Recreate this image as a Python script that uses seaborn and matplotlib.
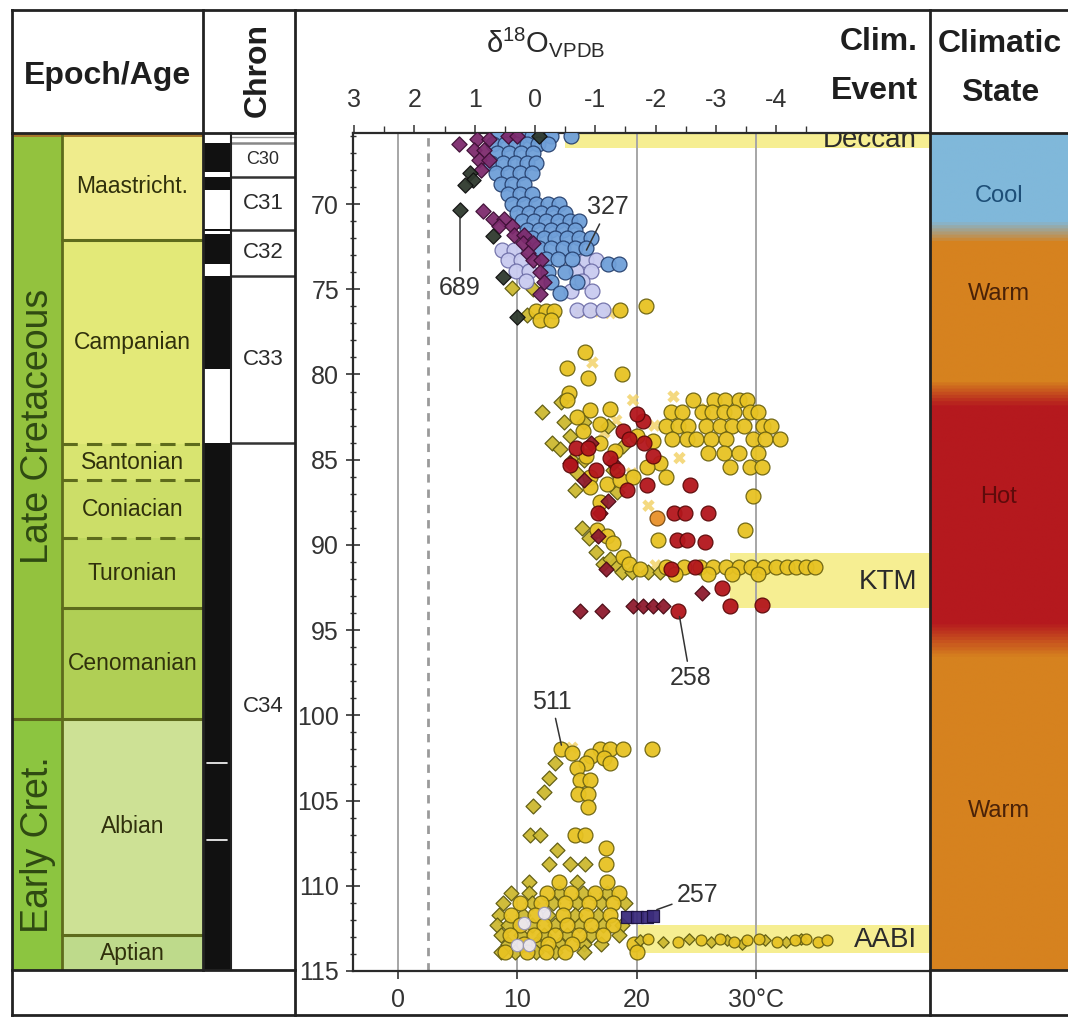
import numpy as np
import matplotlib
matplotlib.use("Agg")
import matplotlib.pyplot as plt
import seaborn as sns
from matplotlib.colors import LinearSegmentedColormap

# ---------------------------------------------------------------- data
epoch_names = ["Late Cretaceous", "Early Cret."]
epoch_top = [65.83, 100.2]
epoch_base = [100.2, 115.0]

stage_names = ["Maastricht.", "Campanian", "Santonian", "Coniacian",
               "Turonian", "Cenomanian", "Albian", "Aptian"]
stage_top = [65.83, 72.1, 84.1, 86.2, 89.6, 93.7, 100.2, 112.9]
stage_base = [72.1, 84.1, 86.2, 89.6, 93.7, 100.2, 112.9, 115.0]

chron_names = ["C30", "C31", "C32", "C33", "C34"]
chron_top = [66.4, 68.4, 71.5, 74.2, 84.0]
chron_base = [68.4, 71.5, 74.2, 84.0, 115.0]
normal_top = [66.4, 68.4, 71.45, 71.75, 74.2, 84.0]
normal_base = [68.1, 69.2, 71.6, 73.5, 79.7, 115.0]
c34_white_ticks = [102.8, 107.3]

clim_state_names = ["Cool", "Warm", "Hot", "Warm"]
clim_state_age = [69.5, 75.3, 87.2, 105.6]
clim_grad_age = [65.83, 70.9, 72.2, 80.3, 81.8, 94.6, 96.6, 115.0]
clim_grad_col = ["#80B8DA", "#80B8DA", "#D6821F", "#D6821F",
                 "#B5191E", "#B5191E", "#D6821F", "#D6821F"]

event_names = ["Deccan", "KTM", "AABI"]
event_top = [65.83, 90.5, 112.3]
event_base = [66.7, 93.7, 113.95]
event_tstart = [14.0, 27.8, 20.0]
event_label_age = [66.25, 92.2, 113.2]

temp_ticks = [0, 10, 20, 30]
temp_labels = ["0", "10", "20", "30°C"]
d18o_ticks = [3, 2, 1, 0, -1, -2, -3, -4]
d18o_labels = ["3", "2", "1", "0", "-1", "-2", "-3", "-4"]
age_ticks = [70, 75, 80, 85, 90, 95, 100, 105, 110, 115]

# sample series: age (Ma) and temperature (deg C)
blue_age = [66.0, 66.0, 66.0, 66.0, 66.0, 66.0, 66.0,
            66.5, 66.5, 66.5, 66.5, 66.5, 66.5,
            67.0, 67.0, 67.0, 67.0,
            67.6, 67.6, 67.6, 67.6, 67.6,
            68.2, 68.2, 68.2, 68.2,
            68.8, 68.8, 68.8,
            69.4, 69.4, 69.4,
            70.0, 70.0, 70.0, 70.0, 70.0,
            70.5, 70.5, 70.5, 70.5, 70.5,
            71.0, 71.0, 71.0, 71.0, 71.0, 71.0,
            71.5, 71.5, 71.5, 71.5, 71.5,
            72.0, 72.0, 72.0, 72.0, 72.0, 72.0,
            72.6, 72.6, 72.6, 72.6, 72.6,
            73.2, 73.2, 73.2,
            73.5, 73.5,
            74.0, 74.0, 74.6, 74.6, 75.2]
blue_temp = [8.4, 9.4, 10.3, 11.2, 12.0, 12.8, 14.5,
             8.0, 9.0, 9.9, 10.8, 11.7, 12.6,
             8.3, 9.3, 10.3, 11.3,
             7.8, 8.8, 9.8, 10.8, 11.6,
             8.2, 9.2, 10.2, 11.2,
             8.6, 9.6, 10.6,
             9.2, 10.2, 11.2,
             9.6, 10.6, 11.6, 12.6, 13.5,
             10.0, 11.0, 12.0, 13.0, 14.0,
             10.4, 11.4, 12.4, 13.4, 14.4, 15.2,
             10.8, 11.8, 12.8, 13.8, 14.8,
             11.2, 12.2, 13.2, 14.2, 15.2, 16.2,
             11.8, 12.8, 13.8, 14.8, 15.8,
             12.4, 13.4, 14.6,
             17.6, 18.5,
             12.6, 14.0, 12.8, 15.0, 13.6]

lav_age = [72.7, 72.7, 73.3, 73.3, 73.3, 73.3, 73.9, 73.9, 73.9, 73.9,
           74.5, 74.5, 75.1, 75.1, 76.2, 76.2, 76.2]
lav_temp = [8.7, 9.7, 9.2, 10.3, 15.8, 16.6, 9.9, 11.0, 14.9, 16.2,
            10.7, 15.4, 14.5, 16.3, 15.0, 16.1, 17.2]

purple_age = [66.5, 66.0, 66.0, 66.2, 66.2, 66.8, 66.8, 67.4, 67.4, 68.0,
              70.4, 70.9, 70.9, 71.3, 71.3, 71.8, 71.8, 72.3, 72.3, 72.9,
              73.3, 73.3, 74.0, 74.6, 75.3]
purple_temp = [5.1, 9.2, 10.0, 6.6, 7.6, 6.4, 7.2, 6.8, 7.6, 7.0,
               7.1, 8.0, 8.9, 8.5, 9.6, 9.7, 10.6, 10.5, 11.3, 10.9,
               11.3, 12.0, 11.9, 12.2, 11.9]

dark_age = [66.0, 68.2, 68.6, 68.9, 70.35, 71.9, 74.3, 76.6]
dark_temp = [11.8, 6.0, 6.3, 5.6, 5.2, 8.0, 8.8, 10.0]

goldc_age = [76.3, 76.3, 76.3, 76.8, 76.8, 76.2, 76.0,
             78.7, 79.6, 80.2, 80.0, 81.1,
             81.5, 82.1, 82.5, 82.9, 82.0, 83.3, 84.0, 84.8, 86.0, 86.4,
             86.2, 86.0, 83.9, 85.2, 86.0, 83.6, 85.4, 84.5,
             81.5, 81.5, 81.5, 81.5, 81.5,
             82.2, 82.2, 82.2, 82.2, 82.2, 82.2, 82.2, 82.2,
             83.0, 83.0, 83.0, 83.0, 83.0, 83.0, 83.0, 83.0, 83.0,
             83.8, 83.8, 83.8, 83.8, 83.8, 83.8, 83.8, 83.8,
             84.6, 84.6, 84.6, 84.6,
             85.4, 85.4, 85.4,
             86.6, 87.5, 89.1, 89.5, 89.9, 90.7, 91.1, 91.4,
             87.1, 89.1, 89.7,
             91.3, 91.3, 91.3, 91.3, 91.3, 91.3, 91.3, 91.3, 91.3, 91.3,
             91.3, 91.3, 91.3,
             91.7, 91.7, 91.7, 91.7,
             102.0, 102.2, 102.0, 102.0, 102.0, 102.0, 102.4, 102.5, 102.8,
             102.8, 103.1, 103.8, 103.8, 104.6, 104.6, 105.4, 107.0, 107.0,
             107.8, 108.7,
             109.8, 109.8,
             110.4, 110.4, 110.4, 110.4,
             111.0, 111.0, 111.0, 111.0, 111.0,
             111.7, 111.7, 111.7, 111.7, 111.7,
             112.3, 112.3, 112.3, 112.3, 112.3,
             112.9, 112.9, 112.9, 112.9, 112.9,
             113.4, 113.4, 113.4, 113.4,
             113.9, 113.9, 113.9, 113.9, 113.9]
goldc_temp = [11.6, 12.4, 13.1, 11.9, 12.8, 18.6, 20.8,
              15.7, 14.2, 15.9, 18.8, 14.3,
              14.2, 16.1, 15.0, 16.9, 17.8, 15.5, 16.9, 15.8, 16.1, 17.5,
              18.6, 19.7, 21.4, 22.0, 22.5, 20.0, 20.9, 18.2,
              24.7, 26.5, 27.4, 28.6, 29.3,
              22.9, 23.8, 25.5, 26.3, 27.3, 28.2, 29.5, 30.2,
              22.5, 23.5, 24.3, 25.8, 27.0, 28.0, 29.0, 30.6, 31.3,
              23.0, 24.2, 25.0, 26.2, 27.5, 29.8, 30.8, 32.0,
              26.0, 27.3, 28.6, 30.2,
              27.8, 29.5, 30.5,
              16.1, 16.9, 16.7, 17.5, 18.0, 18.9, 19.4, 20.3,
              29.8, 29.1, 21.8,
              22.5, 24.0, 25.3, 26.4, 27.5, 28.6, 29.6, 30.7, 31.7, 32.6,
              33.4, 34.2, 35.0,
              23.2, 26.0, 28.0, 30.2,
              13.7, 14.6, 16.9, 17.8, 18.9, 21.3, 16.2, 17.3, 17.8,
              15.8, 15.0, 15.3, 16.1, 15.1, 15.9, 15.9, 14.8, 15.7,
              17.4, 17.4,
              13.5, 17.5,
              12.5, 14.5, 16.5, 18.5,
              10.2, 12.0, 14.0, 16.0, 18.0,
              9.5, 11.5, 13.8, 15.8, 17.8,
              10.2, 12.2, 14.2, 16.2, 18.0,
              9.4, 11.4, 13.2, 15.2, 17.2,
              10.6, 12.6, 14.6, 19.8,
              9.0, 10.8, 12.4, 14.0, 20.0]

goldd_age = [74.9, 75.0, 76.5,
             82.2, 84.0, 81.6, 82.8, 82.8, 83.6, 84.4, 85.0, 85.0, 85.8,
             86.8, 89.0, 89.6, 90.4, 91.1, 91.1, 91.6, 91.6, 91.6, 91.6,
             90.8, 83.0, 84.2, 85.6, 86.9,
             102.8, 103.7, 104.5, 105.3, 107.0, 107.0, 107.9, 108.7, 108.7,
             108.7,
             109.8, 109.8,
             110.4, 110.4, 110.4, 110.4, 110.4,
             111.0, 111.0, 111.0, 111.0, 111.0, 111.0,
             111.7, 111.7, 111.7, 111.7, 111.7,
             112.3, 112.3, 112.3, 112.3, 112.3, 112.3, 112.3,
             112.9, 112.9, 112.9, 112.9, 112.9, 112.9,
             113.4, 113.4, 113.4, 113.4, 113.4,
             113.9, 113.9, 113.9, 113.9, 113.9]
goldd_temp = [9.6, 11.3, 10.8,
              12.1, 12.9, 13.7, 13.9, 15.6, 14.4, 13.6, 14.6, 15.6, 15.0,
              14.8, 15.4, 16.0, 16.6, 17.2, 18.2, 18.8, 19.6, 21.0, 22.0,
              17.8, 17.6, 18.9, 18.0, 18.4,
              13.2, 12.7, 12.2, 11.3, 11.1, 11.9, 13.3, 15.7, 14.4,
              12.7,
              11.0, 15.0,
              9.5, 11.0, 13.5, 15.5, 17.5,
              8.8, 11.2, 13.0, 15.0, 17.0, 19.0,
              8.5, 10.5, 12.6, 14.8, 16.8,
              8.3, 9.2, 11.2, 13.2, 15.2, 17.2, 18.8,
              8.6, 10.3, 12.2, 14.2, 16.2, 18.5,
              9.2, 11.6, 13.6, 15.6, 17.0,
              8.6, 9.8, 11.6, 13.2, 15.6]

aabi_c_age = [113.1, 113.3, 113.2, 113.1, 113.3, 113.2, 113.1, 113.3, 113.2,
              113.1, 113.3, 113.2]
aabi_c_temp = [21.0, 23.5, 25.4, 27.0, 28.2, 29.3, 30.3, 31.8, 33.3, 34.2,
               35.2, 36.0]
aabi_d_age = [113.2, 113.3, 113.1, 113.3, 113.2, 113.4, 113.2, 113.3, 113.1]
aabi_d_temp = [20.3, 22.2, 24.4, 26.2, 27.6, 28.8, 30.8, 32.5, 33.8]

redc_age = [82.7, 82.3, 83.3, 85.3, 84.9, 84.8, 86.5, 86.5, 88.1, 88.1,
            88.1, 88.1, 89.7, 89.7, 89.8, 91.4, 91.3, 92.5, 93.6, 93.5,
            93.9, 84.3, 84.3, 85.6, 85.6, 83.8, 86.8, 84.0]
redc_temp = [20.5, 20.0, 18.9, 14.4, 17.8, 21.4, 24.5, 20.9, 23.1, 24.1,
             26.0, 16.8, 23.4, 24.2, 25.7, 22.9, 24.9, 27.2, 27.8, 30.5,
             23.5, 14.9, 15.9, 16.6, 18.4, 19.4, 19.2, 20.6]

redd_age = [93.9, 93.9, 93.6, 93.6, 93.6, 93.6, 92.8, 91.4, 85.2, 85.2,
            88.1, 89.5, 84.0, 86.2, 87.4]
redd_temp = [15.3, 17.1, 19.7, 20.5, 21.4, 22.2, 25.5, 17.4, 14.4, 18.0,
             16.9, 16.8, 16.2, 15.6, 17.6]

orange_age = [88.4]
orange_temp = [21.7]

yx_age = [79.3, 81.5, 81.3, 84.9, 82.7, 83.4, 87.7, 91.2, 90.9, 76.3, 76.3,
          76.4, 85.8, 82.0, 83.0, 101.9, 102.3, 112.6]
yx_temp = [16.3, 19.7, 23.1, 23.6, 18.3, 17.3, 21.0, 21.6, 19.0, 15.2, 16.4,
           17.8, 19.6, 25.8, 21.5, 14.6, 17.5, 11.0]

navy_age = [111.85, 111.85, 111.85, 111.8]
navy_temp = [19.2, 20.0, 20.9, 21.4]

pale_age = [112.2, 113.5, 113.5, 111.6]
pale_temp = [10.6, 10.0, 11.0, 12.2]

site_labels = ["327", "689", "258", "511", "257"]
site_point_temp = [15.8, 5.2, 23.6, 13.7, 21.7]
site_point_age = [72.7, 70.8, 94.2, 101.75, 111.4]
site_text_temp = [17.6, 5.2, 24.5, 12.9, 25.1]
site_text_age = [70.2, 74.9, 97.8, 99.2, 110.55]

# ---------------------------------------------------------------- style
sns.set_theme(style="white")
plt.rcParams["font.family"] = ["Liberation Sans", "DejaVu Sans"]
plt.rcParams["axes.unicode_minus"] = False
plt.rcParams["mathtext.fontset"] = "custom"
plt.rcParams["mathtext.rm"] = "Liberation Sans"
plt.rcParams["mathtext.it"] = "Liberation Sans:italic"

W, H = 1068, 1019
AGE_TOP, AGE_BOT = 65.83, 115.0
TXT = "#2B2B2B"

fig = plt.figure(figsize=(W / 100, H / 100), dpi=100)
fig.patch.set_facecolor("white")


def box(x0, x1, y0=133, y1=971):
    return [x0 / W, 1 - y1 / H, (x1 - x0) / W, (y1 - y0) / H]


# ---------------------------------------------------------------- stratigraphy
ax_s = fig.add_axes(box(12, 203))
ax_s.set_xlim(12, 203)
ax_s.set_ylim(AGE_BOT, AGE_TOP)
ax_s.axis("off")
epoch_colors = ["#93C23E", "#8CC540"]
stage_colors = ["#EFEC8C", "#E3E978", "#D8E470", "#CCDE68", "#BED75E",
                "#B0CF55", "#CDE195", "#BEDA8B"]
stage_dashed = [False, False, True, True, True, False, False, False]
for nm, t, b, c in zip(epoch_names, epoch_top, epoch_base, epoch_colors):
    ax_s.fill_betweenx([t, b], 12, 62, color=c, lw=0)
    ax_s.text(38, (t + b) / 2, nm, rotation=90, ha="center", va="center",
              fontsize=27, color="#2F4A12")
for nm, t, b, c, dsh in zip(stage_names, stage_top, stage_base, stage_colors,
                            stage_dashed):
    ax_s.fill_betweenx([t, b], 62, 203, color=c, lw=0)
    ax_s.text(132.5, (t + b) / 2, nm, ha="center", va="center",
              fontsize=16.5, color="#30300C")
    if t > AGE_TOP:
        ax_s.plot([62, 203], [t, t], color="#5E6B1C", lw=2.2,
                  ls=(0, (5, 3)) if dsh else "-")
ax_s.plot([12, 62], [epoch_top[1]] * 2, color="#5E6B1C", lw=2.2)
ax_s.plot([62, 62], [AGE_TOP, AGE_BOT], color="#5E6B1C", lw=2)
ax_s.fill_betweenx([AGE_TOP, 66.05], 12, 203, color="#A8782C", lw=0)

# ---------------------------------------------------------------- polarity
ax_p = fig.add_axes(box(203, 231))
ax_p.set_xlim(0, 1)
ax_p.set_ylim(AGE_BOT, AGE_TOP)
ax_p.axis("off")
for t, b in zip(normal_top, normal_base):
    ax_p.fill_betweenx([t, b], 0, 1, color="#111111", lw=0)
for a in c34_white_ticks:
    ax_p.plot([0.15, 0.85], [a, a], color="white", lw=1.2)

ax_c = fig.add_axes(box(231, 295))
ax_c.set_xlim(0, 1)
ax_c.set_ylim(AGE_BOT, AGE_TOP)
ax_c.axis("off")
for i, (nm, t, b) in enumerate(zip(chron_names, chron_top, chron_base)):
    ax_c.plot([0, 1], [t, t], color="#333333" if i else "#888888",
              lw=1.8)
    ax_c.text(0.5, (t + b) / 2, nm, ha="center", va="center",
              fontsize=13 if i == 0 else 16, color=TXT)
ax_c.plot([0, 1], [66.05, 66.05], color="#999999", lw=1)

# ---------------------------------------------------------------- main panel
ax = fig.add_axes(box(353, 930))
ax.set_facecolor("white")
XL = (-3.77, 44.6)

for t, b, ts in zip(event_top, event_base, event_tstart):
    ax.fill_betweenx([t, b], ts, XL[1], color="#F6EE92", lw=0, zorder=0)
for tt in temp_ticks:
    ax.axvline(tt, color="#A6A6A6", lw=1.4, zorder=1)
ax.axvline(2.5, color="#9A9A9A", lw=2, ls=(0, (3, 2.5)), zorder=1)


def scat(ages, temps, marker, fc, ec, s, z, lw=0.9, alpha=0.95):
    sns.scatterplot(x=temps, y=ages, marker=marker, color=fc, edgecolor=ec,
                    s=s, linewidth=lw, alpha=alpha, ax=ax, zorder=z,
                    legend=False)


scat(yx_age, yx_temp, "X", "#F3D36A", "none", 80, 2, lw=0, alpha=0.85)
scat(goldd_age, goldd_temp, "D", "#CDB930", "#5E5A10", 58, 3)
scat(goldc_age, goldc_temp, "o", "#E7C222", "#6B6210", 115, 4)
scat(aabi_d_age, aabi_d_temp, "D", "#CDB930", "#5E5A10", 34, 4)
scat(aabi_c_age, aabi_c_temp, "o", "#E7C222", "#6B6210", 62, 4)
scat(pale_age, pale_temp, "o", "#ECE8F4", "#9A96B0", 80, 5)
scat(redd_age, redd_temp, "D", "#8E1B2E", "#4A0A14", 58, 5)
scat(redc_age, redc_temp, "o", "#B3161C", "#5C0A0A", 115, 6)
scat(orange_age, orange_temp, "o", "#E8902A", "#7A4A10", 115, 6)
scat(lav_age, lav_temp, "o", "#C9CBF0", "#6F6FA8", 115, 5)
scat(blue_age, blue_temp, "o", "#6F9FD8", "#26406E", 115, 6)
scat(purple_age, purple_temp, "D", "#7D2B6E", "#3E1036", 60, 7)
scat(dark_age, dark_temp, "D", "#2F3A2E", "#111111", 60, 7)
scat(navy_age, navy_temp, "s", "#3B2C7C", "#1C1240", 80, 7)

for lab, pt, pa, tt, ta in zip(site_labels, site_point_temp, site_point_age,
                               site_text_temp, site_text_age):
    ax.annotate(lab, xy=(pt, pa), xytext=(tt, ta), ha="center", va="center",
                fontsize=18, color="#333333", zorder=9,
                arrowprops=dict(arrowstyle="-", color="#333333", lw=1.1,
                                shrinkA=1, shrinkB=0))

for nm, a in zip(event_names, event_label_age):
    ax.text(43.5, a, nm, ha="right", va="center", fontsize=20, color=TXT,
            zorder=9, clip_on=True)

ax.set_xlim(*XL)
ax.set_ylim(AGE_BOT, AGE_TOP)
ax.set_xlabel("")
ax.set_ylabel("")
ax.set_xticks(temp_ticks, labels=temp_labels)
ax.set_yticks(age_ticks, labels=[str(a) for a in age_ticks])
ax.set_yticks(np.arange(66, 116), minor=True)
ax.tick_params(axis="y", which="major", direction="inout", length=10,
               width=1.2, labelsize=18, pad=5, left=True, colors="#333333")
ax.tick_params(axis="y", which="minor", direction="inout", length=5,
               width=1, left=True, color="#333333")
ax.tick_params(axis="x", which="major", direction="out", length=6, width=1.2,
               labelsize=18, pad=6, bottom=True, colors="#333333")
for sp in ["left", "top", "bottom"]:
    ax.spines[sp].set_color("#2A2A2A")
    ax.spines[sp].set_linewidth(1.6)
ax.spines["right"].set_visible(False)
ax.grid(False)


def t2d(t):
    return 2.272 - 0.1978 * np.asarray(t, dtype=float)


def d2t(d):
    return (2.272 - np.asarray(d, dtype=float)) / 0.1978


ax_top = ax.secondary_xaxis("top", functions=(t2d, d2t))
ax_top.set_xticks(d18o_ticks, labels=d18o_labels)
ax_top.set_xticks(np.arange(2.5, -5.0, -1.0), minor=True)
ax_top.tick_params(which="major", direction="out", length=6, width=1.1,
                   labelsize=18, pad=9, colors="#333333")
ax_top.tick_params(which="minor", direction="out", length=5, width=1.0,
                   color="#333333")
ax_top.spines["top"].set_visible(False)

# ---------------------------------------------------------------- climate state
ax_k = fig.add_axes(box(930, 1068))
ax_k.set_xlim(0, 1)
ax_k.set_ylim(AGE_BOT, AGE_TOP)
ax_k.axis("off")
pos = [(a - AGE_TOP) / (AGE_BOT - AGE_TOP) for a in clim_grad_age]
cmap = LinearSegmentedColormap.from_list("clim", list(zip(pos, clim_grad_col)))
grid_age = np.linspace(AGE_TOP, AGE_BOT, 800).reshape(-1, 1)
ax_k.imshow(grid_age, cmap=cmap, vmin=AGE_TOP, vmax=AGE_BOT, aspect="auto",
            extent=[0, 1, AGE_BOT, AGE_TOP], origin="upper",
            interpolation="bilinear")
state_txt_col = ["#1D4E77", "#4A2208", "#5E0B0B", "#4A2208"]
for nm, a, c in zip(clim_state_names, clim_state_age, state_txt_col):
    ax_k.text(0.5, a, nm, ha="center", va="center", fontsize=17, color=c)

# ---------------------------------------------------------------- frame & headers
ov = fig.add_axes([0, 0, 1, 1], zorder=30)
ov.set_xlim(0, W)
ov.set_ylim(H, 0)
ov.axis("off")
ov.patch.set_alpha(0)
LC = "#222222"


def L(xs, ys, lw=2.0):
    ov.plot(xs, ys, color=LC, lw=lw, solid_capstyle="projecting")


L([12, 1068], [10, 10])
L([12, 12], [10, 1015])
L([12, 1068], [1015, 1015])
L([203, 203], [10, 970])
L([295, 295], [10, 1015])
L([930, 930], [10, 1015])
L([12, 295], [133, 133])
L([930, 1068], [133, 133])
L([12, 295], [970, 970])
L([930, 1068], [970, 970])
L([231, 231], [133, 970], lw=1.5)

hb = dict(fontsize=23, fontweight="bold", color="#1E1E1E")
ov.text(107, 76, "Epoch/Age", ha="center", va="center", **hb)
ov.text(258, 70, "Chron", ha="center", va="center", rotation=90, **hb)
ov.text(918, 42, "Clim.", ha="right", va="center", **hb)
ov.text(918, 91, "Event", ha="right", va="center", **hb)
ov.text(1000, 44, "Climatic", ha="center", va="center", **hb)
ov.text(1000, 93, "State", ha="center", va="center", **hb)
ov.text(546, 42, "δ$^{18}$O$_{\\mathregular{VPDB}}$", ha="center",
        va="center", fontsize=21, color="#2A2A2A")

fig.savefig("out.png", dpi=100)
